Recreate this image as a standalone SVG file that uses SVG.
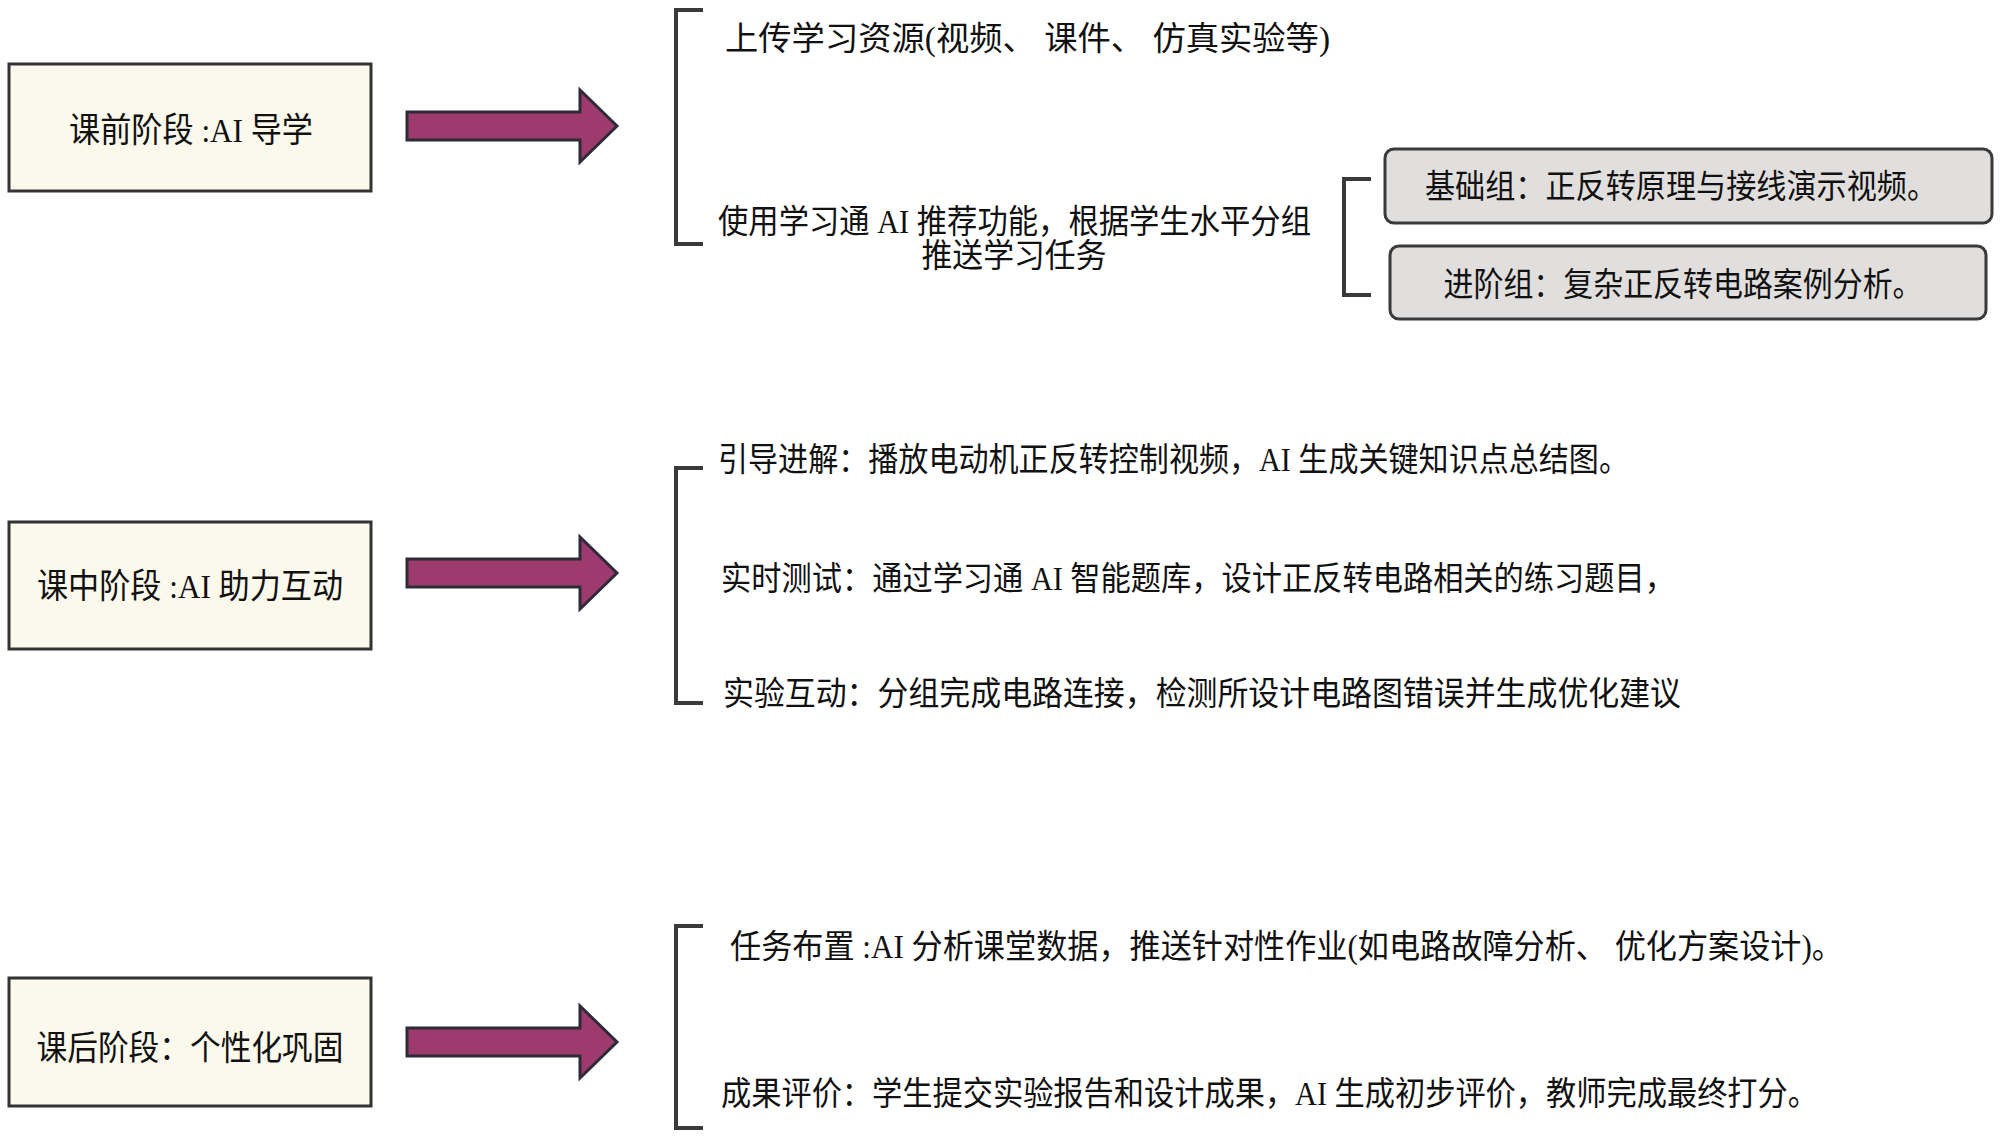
<svg xmlns="http://www.w3.org/2000/svg" width="2000" height="1138" viewBox="0 0 2000 1138">
<style>
.stage{fill:#FBF8EC;stroke:#333;stroke-width:3}
.sub{fill:#E1DFDD;stroke:#3A3A3A;stroke-width:3}
.arrow{fill:#9E3B6E;stroke:#2E2A38;stroke-width:3;stroke-linejoin:miter}
.br{fill:none;stroke:#3A3A3A;stroke-width:4}
text{font-family:"Liberation Serif","Noto Sans CJK SC",serif;fill:#111}
.lbl{font-size:34px;text-anchor:middle}
.t{font-size:33px}
.tc{font-size:33px;text-anchor:middle}
</style>
<rect width="2000" height="1138" fill="#fff"/>
<g id="stage1"><rect class="stage" x="9" y="64" width="362" height="127"/><text class="lbl" x="191" y="142" textLength="244" lengthAdjust="spacingAndGlyphs">课前阶段 :AI 导学</text></g>
<g id="stage2"><rect class="stage" x="9" y="522" width="362" height="127"/><text class="lbl" x="190" y="598" textLength="306" lengthAdjust="spacingAndGlyphs">课中阶段 :AI 助力互动</text></g>
<g id="stage3"><rect class="stage" x="9" y="978" width="362" height="128"/><text class="lbl" x="190" y="1060" textLength="307" lengthAdjust="spacingAndGlyphs">课后阶段：个性化巩固</text></g>
<g id="connectors">
<path class="arrow" d="M407,112 H580 V90 L617,126 L580,162 V140 H407 Z"/>
<path class="arrow" d="M407,559 H580 V537 L617,573 L580,609 V587 H407 Z"/>
<path class="arrow" d="M407,1028 H580 V1006 L617,1042 L580,1078 V1056 H407 Z"/>
<path class="br" d="M703,10 H676 V244 H703"/>
<path class="br" d="M1371,179 H1344 V295 H1371"/>
<path class="br" d="M703,468 H676 V703 H703"/>
<path class="br" d="M703,926 H676 V1128 H703"/>
</g>
<g id="pre1"><text class="t" x="725" y="50" textLength="605" lengthAdjust="spacingAndGlyphs">上传学习资源(视频、 课件、 仿真实验等)</text></g>
<g id="pre2"><text class="t" x="718" y="233" textLength="593" lengthAdjust="spacingAndGlyphs">使用学习通 AI 推荐功能，根据学生水平分组</text><text class="tc" x="1014" y="267" textLength="185" lengthAdjust="spacingAndGlyphs">推送学习任务</text></g>
<g id="basic"><rect class="sub" x="1385" y="149" width="607" height="74" rx="9"/><text class="tc" x="1681" y="198" textLength="512" lengthAdjust="spacingAndGlyphs">基础组：正反转原理与接线演示视频。</text></g>
<g id="advanced"><rect class="sub" x="1390" y="246" width="596" height="73" rx="9"/><text class="tc" x="1683" y="296" textLength="479" lengthAdjust="spacingAndGlyphs">进阶组：复杂正反转电路案例分析。</text></g>
<g id="mid1"><text class="t" x="718" y="471" textLength="911" lengthAdjust="spacingAndGlyphs">引导进解：播放电动机正反转控制视频，AI 生成关键知识点总结图。</text></g>
<g id="mid2"><text class="t" x="721" y="590" textLength="954" lengthAdjust="spacingAndGlyphs">实时测试：通过学习通 AI 智能题库，设计正反转电路相关的练习题目，</text></g>
<g id="mid3"><text class="t" x="723" y="705" textLength="958" lengthAdjust="spacingAndGlyphs">实验互动：分组完成电路连接，检测所设计电路图错误并生成优化建议</text></g>
<g id="post1"><text class="t" x="730" y="958" textLength="1113" lengthAdjust="spacingAndGlyphs">任务布置 :AI 分析课堂数据，推送针对性作业(如电路故障分析、 优化方案设计)。</text></g>
<g id="post2"><text class="t" x="721" y="1105" textLength="1097" lengthAdjust="spacingAndGlyphs">成果评价：学生提交实验报告和设计成果，AI 生成初步评价，教师完成最终打分。</text></g>
</svg>
